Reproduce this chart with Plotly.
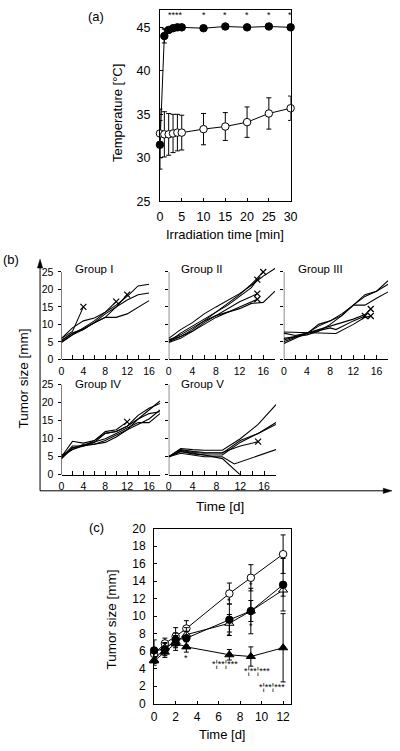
import plotly.graph_objects as go

# ---------------- DATA ----------------
# Panel (a): temperature vs irradiation time
time_a = [0, 1, 2, 3, 4, 5, 10, 15, 20, 25, 30]
temp_heated = [31.5, 44.0, 44.7, 44.9, 45.0, 45.0, 44.9, 45.1, 45.0, 45.1, 45.0]
temp_heated_err = [2.8, 0.8, 0.3, 0.2, 0.2, 0.2, 0.2, 0.2, 0.2, 0.2, 0.2]
temp_control = [32.8, 32.7, 32.7, 32.8, 32.9, 32.9, 33.3, 33.6, 34.1, 35.1, 35.7]
temp_control_err = [2.8, 2.6, 2.4, 2.2, 2.1, 2.0, 1.8, 1.6, 1.75, 1.8, 1.4]
star_times_a = [3.5, 10, 15, 20, 25, 29.9]
star_text_a = ["****", "*", "*", "*", "*", "*"]

# Panel (b): individual tumor growth curves (day, size[mm], ends with x)
group_I = [
    ([0, 2, 4], [6.0, 8.0, 15.0], True),
    ([0, 2, 4, 6, 8, 10, 12, 14, 16], [6.0, 9.0, 11.0, 11.8, 13.5, 15.5, 18.0, 21.0, 21.5], False),
    ([0, 2, 4, 6, 8, 10, 12, 14, 16], [5.5, 7.5, 8.5, 10.5, 13.0, 15.0, 17.0, 18.5, 19.0], False),
    ([0, 2, 4, 6, 8, 10], [5.0, 7.0, 9.0, 11.0, 13.5, 16.5], True),
    ([0, 2, 4, 6, 8, 10, 12], [5.2, 7.5, 8.8, 10.5, 12.0, 15.0, 18.5], True),
    ([0, 2, 4, 6, 8, 10, 12, 14, 16], [4.8, 7.0, 8.5, 10.5, 12.0, 12.0, 13.0, 15.0, 16.8], False),
]
group_II = [
    ([0, 2, 4, 6, 8, 10, 12, 14, 16, 18], [6.0, 8.5, 10.5, 13.0, 15.0, 16.8, 18.8, 21.2, 23.8, 26.0], False),
    ([0, 2, 4, 6, 8, 10, 12, 14, 16], [5.5, 7.0, 9.0, 11.0, 13.5, 16.0, 18.5, 21.5, 25.0], True),
    ([0, 2, 4, 6, 8, 10, 12, 14, 15], [5.0, 7.5, 9.5, 11.5, 13.5, 15.5, 18.0, 20.5, 22.8], True),
    ([0, 2, 4, 6, 8, 10, 12, 14, 15], [5.0, 6.5, 8.0, 10.5, 12.5, 14.5, 16.5, 18.0, 18.8], True),
    ([0, 2, 4, 6, 8, 10, 12, 14, 15], [5.5, 6.5, 8.5, 11.0, 12.5, 13.5, 15.0, 16.5, 17.2], True),
    ([0, 2, 4, 6, 8, 10, 12, 14, 16, 18], [4.8, 6.0, 8.0, 10.0, 12.0, 13.5, 14.5, 16.0, 16.3, 19.5], False),
]
group_III = [
    ([0, 3, 6, 9, 12, 14, 15], [7.8, 7.6, 7.4, 7.4, 10.0, 12.0, 12.4], True),
    ([0, 2, 4, 6, 8, 10, 12, 14, 15], [7.5, 6.8, 7.5, 8.5, 9.5, 10.5, 11.5, 12.8, 14.4], True),
    ([0, 2, 4, 6, 8, 9, 12, 14], [5.5, 6.5, 7.5, 8.2, 9.0, 8.5, 11.0, 12.4], True),
    ([0, 2, 4, 6, 8, 10, 12, 14, 16, 18], [5.0, 6.3, 7.3, 10.0, 11.0, 13.0, 15.5, 18.0, 19.5, 22.5], False),
    ([0, 2, 4, 6, 8, 10, 12, 14, 16, 18], [4.5, 6.0, 7.5, 9.5, 11.0, 12.5, 15.5, 15.5, 17.5, 19.3], False),
    ([0, 2, 4, 6, 8, 10, 12, 14, 16, 18], [6.0, 6.5, 7.0, 8.0, 10.0, 12.5, 15.5, 18.5, 19.5, 21.5], False),
]
group_IV = [
    ([0, 2, 4, 6, 8, 10, 12, 14, 16, 18], [5.0, 9.3, 8.8, 9.5, 11.5, 12.0, 13.5, 15.5, 17.0, 17.5], False),
    ([0, 2, 4, 6, 8, 10, 12, 14, 16, 18], [4.5, 7.5, 8.0, 8.5, 9.0, 10.5, 12.5, 15.5, 18.0, 20.5], False),
    ([0, 2, 4, 6, 8, 10, 12, 14, 16, 18], [5.5, 7.0, 8.0, 9.0, 11.5, 12.0, 13.5, 16.5, 18.5, 19.8], False),
    ([0, 2, 4, 6, 8, 10, 12], [4.8, 8.0, 8.0, 9.5, 12.0, 12.5, 14.7], True),
    ([0, 2, 4, 6, 8, 10, 12, 14, 16, 18], [5.0, 7.0, 8.5, 8.5, 9.5, 11.0, 12.5, 14.0, 15.5, 18.0], False),
    ([0, 2, 4, 6, 8, 10, 12, 14, 16, 18], [4.5, 7.5, 8.2, 9.0, 10.0, 11.5, 13.0, 14.5, 14.5, 17.0], False),
]
group_V = [
    ([0, 2, 4, 6, 9, 12, 15, 18], [5.0, 7.3, 7.0, 6.8, 6.8, 10.0, 14.0, 19.5], False),
    ([0, 2, 4, 6, 9, 12, 15, 18], [5.0, 7.0, 6.5, 6.2, 6.0, 9.5, 11.5, 14.5], False),
    ([0, 2, 4, 6, 9, 12, 15, 18], [5.0, 6.5, 6.0, 5.5, 5.5, 9.0, 11.5, 14.0], False),
    ([0, 2, 4, 6, 9, 12, 15], [5.0, 6.8, 6.2, 6.0, 6.2, 8.0, 9.2], True),
    ([0, 2, 4, 6, 9, 11, 18], [5.0, 6.0, 5.5, 5.0, 5.0, 3.0, 7.0], False),
    ([0, 2, 4, 6, 9, 12], [5.0, 6.5, 5.8, 5.5, 4.5, 0.0], False),
]
group_names = ["Group I", "Group II", "Group III", "Group IV", "Group V"]
ticks_b_x = [0, 2, 4, 6, 8, 10, 12, 14, 16, 18]
ticks_b_xtext = ["0", "", "4", "", "8", "", "12", "", "16", ""]
ticks_b_y = [0, 5, 10, 15, 20, 25]

# Panel (c): mean tumor size
days_c = [0, 1, 2, 3, 7, 9, 12]
size_open_circle = [5.7, 6.9, 7.7, 8.6, 12.6, 14.4, 17.1]
size_open_circle_err = [0.5, 0.6, 1.0, 0.9, 1.2, 1.5, 2.2]
size_open_tri = [5.0, 6.4, 7.1, 7.9, 9.2, 10.6, 13.0]
size_open_tri_err = [0.4, 0.6, 0.7, 0.8, 1.0, 1.2, 0.7]
size_filled_circle = [6.1, 6.2, 7.3, 7.5, 9.6, 10.6, 13.6]
size_filled_circle_err = [1.2, 0.7, 0.8, 0.8, 1.8, 2.6, 3.0]
size_filled_tri = [4.9, 5.9, 6.9, 6.5, 5.6, 5.4, 6.4]
size_filled_tri_err = [0.5, 0.6, 0.8, 0.6, 0.6, 1.1, 3.9]
star_c_x = [3, 7, 7, 9, 9, 6.56, 9.58, 10.97]
star_c_y = [5.2, 11.7, 7.7, 13.6, 8.9, 4.5, 3.7, 1.95]
star_c_text = ["*", "*", "*", "*", "*", "*¦**¦***", "*¦**¦***", "*¦**¦***"]

# ---------------- LAYOUT HELPERS ----------------
W, H = 400, 751
FONT = "Liberation Sans, Arial, sans-serif"


def px(x):
    return x / W


def py(y):
    return 1 - y / H


fig = go.Figure()

# ---------------- Panel (a) ----------------
fig.add_trace(go.Scatter(
    x=time_a, y=temp_heated, mode="lines+markers", xaxis="x", yaxis="y",
    line=dict(color="black", width=1),
    marker=dict(symbol="circle", size=7.5, color="black", line=dict(color="black", width=1)),
    error_y=dict(type="data", array=temp_heated_err, color="black", thickness=1, width=2.5),
    cliponaxis=False, showlegend=False))
fig.add_trace(go.Scatter(
    x=time_a, y=temp_control, mode="lines+markers", xaxis="x", yaxis="y",
    line=dict(color="black", width=1),
    marker=dict(symbol="circle", size=7.5, color="white", line=dict(color="black", width=1)),
    error_y=dict(type="data", array=temp_control_err, color="black", thickness=1, width=2.5),
    cliponaxis=False, showlegend=False))

# ---------------- Panel (b) ----------------
groups = [group_I, group_II, group_III, group_IV, group_V]
for gi, grp in enumerate(groups):
    ax = gi + 2
    ends_x, ends_y = [], []
    for days, sizes, ends in grp:
        fig.add_trace(go.Scatter(
            x=days, y=sizes, mode="lines", xaxis=f"x{ax}", yaxis=f"y{ax}",
            line=dict(color="black", width=1.1), showlegend=False))
        if ends:
            ends_x.append(days[-1])
            ends_y.append(sizes[-1])
    if ends_x:
        fig.add_trace(go.Scatter(
            x=ends_x, y=ends_y, mode="markers", xaxis=f"x{ax}", yaxis=f"y{ax}",
            marker=dict(symbol="x-thin", size=6, line=dict(color="black", width=1.2)),
            cliponaxis=False, showlegend=False))

# ---------------- Panel (c) ----------------
series_c = [
    (size_open_circle, size_open_circle_err, "circle", "white", 7.5),
    (size_open_tri, size_open_tri_err, "triangle-up", "white", 8),
    (size_filled_circle, size_filled_circle_err, "circle", "black", 7.5),
    (size_filled_tri, size_filled_tri_err, "triangle-up", "black", 8),
]
for vals, errs, sym, fill, sz in series_c:
    fig.add_trace(go.Scatter(
        x=days_c, y=vals, mode="lines+markers", xaxis="x7", yaxis="y7",
        line=dict(color="black", width=1),
        marker=dict(symbol=sym, size=sz, color=fill, line=dict(color="black", width=1)),
        error_y=dict(type="data", array=errs, color="black", thickness=1, width=2.5),
        cliponaxis=False, showlegend=False))

# ---------------- Axes ----------------
base = dict(showgrid=False, zeroline=False, linecolor="black", linewidth=1,
            tickcolor="black", tickwidth=1, color="black")

layout = dict(
    width=W, height=H, margin=dict(l=0, r=0, t=0, b=0),
    paper_bgcolor="white", plot_bgcolor="rgba(0,0,0,0)",
    font=dict(family=FONT, color="black"),
    showlegend=False,
)
# (a)
layout["xaxis"] = dict(base, domain=[px(161), px(295)], range=[0, 30], tickvals=[0, 5, 10, 15, 20, 25, 30],
                       ticks="inside", ticklen=3, showline=True, mirror=True, ticklabelstandoff=4,
                       tickfont=dict(size=12.5), anchor="y")
layout["yaxis"] = dict(base, domain=[py(198), py(3)], range=[25, 47], tickvals=[25, 30, 35, 40, 45],
                       ticks="inside", ticklen=3, showline=True, mirror=True, ticklabelstandoff=6,
                       tickfont=dict(size=12.5), anchor="x")
# (b)
b_x_dom = [(60, 161), (170, 279), (288, 395), (60, 161), (170, 280)]
b_y_dom = [(359, 3.56), (359, 3.56), (359, 3.56), (476.7, 3.67), (476.7, 3.67)]
for i in range(5):
    ax = i + 2
    x0, x1 = b_x_dom[i]
    y0, sc = b_y_dom[i]
    layout[f"xaxis{ax}"] = dict(base, domain=[px(x0), px(x1)], range=[0, 18],
                                tickvals=ticks_b_x, ticktext=ticks_b_xtext,
                                ticks="inside", ticklen=4, showline=True, ticklabelstandoff=2,
                                tickfont=dict(size=10.5), anchor=f"y{ax}")
    layout[f"yaxis{ax}"] = dict(base, domain=[py(y0), py(y0 - 27 * sc)], range=[0, 27],
                                tickvals=ticks_b_y, ticks="outside", ticklen=3, showline=False,
                                showticklabels=(i in (0, 3)), ticklabelstandoff=2,
                                tickfont=dict(size=10.5), anchor=f"x{ax}")
# (c)
layout["xaxis7"] = dict(base, domain=[px(155), px(295)], range=[0, 12.7], tickvals=[0, 2, 4, 6, 8, 10, 12],
                        ticks="inside", ticklen=3, showline=True, mirror=True, ticklabelstandoff=2,
                        tickfont=dict(size=12), anchor="y7")
layout["yaxis7"] = dict(base, domain=[py(710), py(531.7)], range=[0, 20], dtick=2, tick0=0,
                        ticks="inside", ticklen=3, showline=True, mirror=True, ticklabelstandoff=5,
                        tickfont=dict(size=12), anchor="x7")
fig.update_layout(**layout)

# ---------------- Shapes ----------------
shapes = []
# y-axis lines of the small panels (0..25)
for i in range(5):
    ax = i + 2
    shapes.append(dict(type="line", xref=f"x{ax}", yref=f"y{ax}", x0=0, x1=0, y0=0, y1=25,
                       line=dict(color="black", width=1)))
# big frame with arrows for panel (b)
shapes.append(dict(type="line", xref="paper", yref="paper", x0=px(38), x1=px(38), y0=py(493), y1=py(264),
                   line=dict(color="black", width=1)))
shapes.append(dict(type="line", xref="paper", yref="paper", x0=px(38), x1=px(392), y0=py(493), y1=py(493),
                   line=dict(color="black", width=1)))
shapes.append(dict(type="path", xref="paper", yref="paper",
                   path=f"M {px(38)} {py(257)} L {px(35.3)} {py(266)} L {px(40.7)} {py(266)} Z",
                   fillcolor="black", line=dict(color="black", width=0.5)))
shapes.append(dict(type="path", xref="paper", yref="paper",
                   path=f"M {px(399)} {py(493)} L {px(390)} {py(490.3)} L {px(390)} {py(495.7)} Z",
                   fillcolor="black", line=dict(color="black", width=0.5)))
fig.update_layout(shapes=shapes)

# ---------------- Annotations ----------------
ann = []


def text(x, y, s, size, **kw):
    d = dict(x=px(x), y=py(y), xref="paper", yref="paper", text=s, showarrow=False,
             font=dict(size=size, family=FONT, color="black"), xanchor="center", yanchor="middle")
    d.update(kw)
    ann.append(d)


text(95, 10, "(a)", 13)
text(8.5, 257, "(b)", 13)
text(96, 530, "(c)", 13)
text(118, 108, "Temperature [°C]", 13, textangle=-90)
text(228, 232, "Irradiation time [min]", 13)
text(22, 378, "Tumor size [mm]", 13.5, textangle=-90)
text(223, 509, "Time [d]", 13.5)
text(111, 624, "Tumor size [mm]", 13.5, textangle=-90)
text(225, 741, "Time [d]", 13)

group_label_pos = [(72, 267), (181, 267), (300, 267), (72, 384), (181, 384)]
for name, (gx, gy) in zip(group_names, group_label_pos):
    text(gx, gy, name, 11.5, xanchor="left")

for xs, s in zip(star_times_a, star_text_a):
    ann.append(dict(x=xs, y=46.4, xref="x", yref="y", text=s, showarrow=False,
                    font=dict(size=9, family=FONT, color="black"), xanchor="center", yanchor="middle"))
ann.append(dict(x=1, y=44.7, xref="x", yref="y", text="*", showarrow=False,
                font=dict(size=9, family=FONT, color="black"), xanchor="center", yanchor="middle"))
for xs, ys, s in zip(star_c_x, star_c_y, star_c_text):
    ann.append(dict(x=xs, y=ys, xref="x7", yref="y7", text=s, showarrow=False,
                    font=dict(size=9, family=FONT, color="black"), xanchor="center", yanchor="middle"))

fig.update_layout(annotations=ann)

fig.write_html("out.html", config={"displayModeBar": False},
               post_script="document.body.style.margin='0px';")
